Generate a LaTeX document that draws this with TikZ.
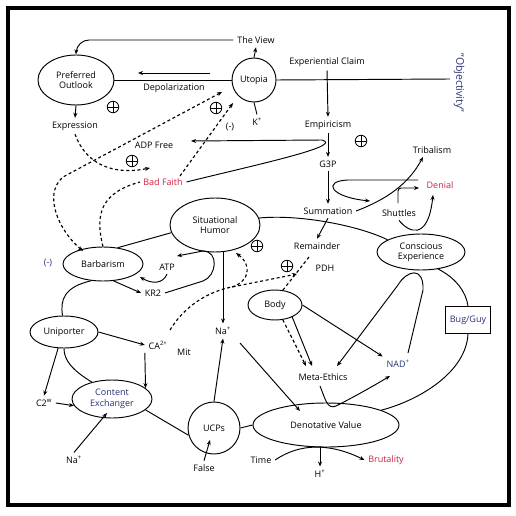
\documentclass[tikz,border=0pt]{standalone}
\usepackage{fontspec}
\setmainfont{Open Sans}
\usetikzlibrary{arrows.meta,shapes.geometric}
\definecolor{redtxt}{RGB}{205,35,70}
\definecolor{bluetxt}{RGB}{40,50,115}
\begin{document}
\begin{tikzpicture}[x=1pt,y=-1pt,
  font=\fontsize{9}{10.4}\selectfont,
  line width=0.95pt,
  >={Stealth[length=5pt,width=4pt]},
  ell/.style={draw, ellipse, inner sep=0pt, align=center},
  dsh/.style={line width=1.15pt, dash pattern=on 3pt off 2.6pt},
  plusnode/.style={circle, draw, line width=0.8pt, minimum size=11.5pt, inner sep=0pt,
    path picture={\draw[line width=0.8pt] (path picture bounding box.north) -- (path picture bounding box.south)
      (path picture bounding box.west) -- (path picture bounding box.east);}}]
\useasboundingbox (0,0) rectangle (516,516);
\fill[white] (0,0) rectangle (516,516);
\draw[line width=3.2pt] (8,8) rectangle (509,505);

% ---------- nodes ----------
\node[ell, minimum width=76pt, minimum height=50pt] (PO) at (76,80) {Preferred\\Outlook};
\node[draw, circle, minimum size=44pt, inner sep=0pt] (UT) at (254,80) {Utopia};
\node (VIEW) at (256,40) {The View};
\node (K) at (257,122) {K\textsuperscript{+}};
\node (EXP) at (75,126) {Expression};
\node (DEP) at (174,88) {Depolarization};
\node (EC) at (327,62) {Experiential Claim};
\node[rotate=-90, text=bluetxt, font=\fontsize{10.5}{12}\selectfont] (OBJ) at (459,83) {"Objectivity"};
\node (EMP) at (328,125) {Empiricism};
\node (G3P) at (328,164) {G3P};
\node (SUM) at (328,211) {Summation};
\node (TRIB) at (432,150) {Tribalism};
\node[text=redtxt] (DEN) at (440,185) {Denial};
\node (SHU) at (399,213) {Shuttles};
\node (ADP) at (154,145) {ADP Free};
\node[text=redtxt] (BF) at (163,182) {Bad Faith};
\node (NEG2) at (230,127) {(-)};
\node[ell, minimum width=90pt, minimum height=54pt] (SH) at (215,225) {Situational\\Humor};
\node[ell, minimum width=80pt, minimum height=34pt] (BAR) at (103,264) {Barbarism};
\node[text=bluetxt] (NEG) at (48,263) {(-)};
\node (ATP) at (167,267) {ATP};
\node (KR2) at (153,293) {KR2};
\node (REM) at (317,246) {Remainder};
\node (PDH) at (325,268) {PDH};
\node[ell, minimum width=88pt, minimum height=36pt] (CE) at (421,252) {Conscious\\Experience};
\node[draw, line width=1.1pt, minimum width=45pt, minimum height=27pt, inner sep=1pt, text=bluetxt] (BG) at (468,320) {Bug/Guy};
\node[ell, minimum width=54pt, minimum height=30pt] (BODY) at (275,305) {Body};
\node[ell, minimum width=68pt, minimum height=32pt] (UNI) at (64,332) {Uniporter};
\node (CA) at (158,345) {CA\textsuperscript{2+}};
\node (MIT) at (184,352) {Mit};
\node (NA1) at (223,331) {Na\textsuperscript{+}};
\node (ME) at (323,377) {Meta-Ethics};
\node[text=bluetxt] (NAD) at (398,364) {NAD\textsuperscript{+}};
\node[ell, minimum width=80pt, minimum height=38pt, text=bluetxt] (CX) at (112,399) {Content\\Exchanger};
\node (C2) at (44,403) {C2\textsuperscript{w}};
\node[draw, circle, minimum size=52pt, inner sep=0pt] (UCP) at (214,428) {UCPs};
\node[ell, minimum width=146pt, minimum height=44pt] (DV) at (326,425) {Denotative Value};
\node (NA2) at (74,460) {Na\textsuperscript{+}};
\node (FALSE) at (204,468) {False};
\node (TIME) at (261,460) {Time};
\node[text=redtxt] (BRU) at (386,460) {Brutality};
\node (H) at (320,474) {H\textsuperscript{+}};

\node[plusnode] (P1) at (113,107) {};
\node[plusnode] (P2) at (216,108) {};
\node[plusnode] (P3) at (132,161) {};
\node[plusnode] (P4) at (361,141) {};
\node[plusnode] (P5) at (257,246) {};
\node[plusnode] (P6) at (287,266) {};

% ---------- helper coordinates ----------
\coordinate (depA) at (210,73);
\coordinate (depB) at (138,73);
\coordinate (objEnd) at (450,79);
\coordinate (adpIn) at (191,141);
\coordinate (tribIn) at (423,157);
\coordinate (loopS) at (418,180);
\coordinate (loopE) at (370,201);
\coordinate (shuTop) at (398,203);
\coordinate (denIn) at (419,188);
\coordinate (denBot) at (433,195);
\coordinate (atpIn) at (177,256);
\coordinate (barIn) at (140,277);
\coordinate (dvIn) at (300,411);
\coordinate (na1Out) at (240,343);
\coordinate (ucpIn) at (210,440);
\coordinate (meTop1) at (312,366);
\coordinate (meTop2) at (306,366);
\coordinate (meTop3) at (337,366);
\coordinate (meBot) at (320,386);
\coordinate (nadIn) at (390,376);
\coordinate (nadTop) at (408,353);
\coordinate (caTop) at (170,330);
\coordinate (dJoin) at (232,287);
\coordinate (pdhIn) at (297,274);
\coordinate (shIn) at (236,253);
\coordinate (bfIn) at (150,168);
\coordinate (utIn1) at (222,92);
\coordinate (utIn2) at (233,103);
\coordinate (bfOut) at (180,176);
\coordinate (barIn2) at (83,251);
\coordinate (bfIn2) at (140,182);
\coordinate (cxIn) at (107,413);

% ---------- top connectors ----------
\draw[->] (UT.north) -- (VIEW.south);
\draw[->, rounded corners=12pt] (VIEW.west) -- (77,40) -- (PO.north);
\draw (UT.west) -- (PO.east);
\draw[->] (depA) -- (depB);
\draw (UT.south) -- (K.north);
\draw (UT.east) -- (objEnd);
\draw[->] (EC.south) -- (EMP.north);
\draw[->] (EMP.south) -- (G3P.north);
\draw[->] (G3P.south) -- (SUM.north);
\draw[->] (PO.south) -- (EXP.north);
\draw[->] (BF.east) .. controls (255,165) and (345,146) .. (322,140) -- (adpIn);

% ---------- right upper ----------
\draw[->] (SUM.east) .. controls (385,200) and (408,185) .. (tribIn);
\draw[->] (loopS) -- (348,180) .. controls (322,181) and (330,197) .. (loopE);
\draw[->, rounded corners=3pt] (shuTop) -- (398,188) -- (denIn);
\draw[->] (SHU.south) .. controls (408,232) and (428,242) .. (denBot);
\draw[->] (SUM.south) -- (REM.north);

% ---------- membrane ----------
\draw (BAR.48) -- (SH.190);
\draw (SH.9) .. controls (300,214) and (360,226) .. (CE.160);
\draw (CE.-45) .. controls (456,278) and (466,292) .. (BG.north);
\draw (BG.south) .. controls (466,372) and (420,400) .. (DV.15);
\draw (UCP.east) -- (DV.west);
\draw (CX.-18) -- (UCP.196);
\draw (CX.140) .. controls (72,370) and (64,360) .. (UNI.south);
\draw (UNI.95) .. controls (60,300) and (64,287) .. (BAR.-125);

% ---------- left middle ----------
\draw[->] (ATP.south) .. controls (163,284) and (152,284) .. (barIn);
\draw[->] (BAR.-58) -- (KR2.west);
\draw[->] (KR2.east) -- (203,281) .. controls (217,276) and (219,251) .. (203,251) -- (atpIn);
\draw[->] (SH.south -| NA1.north) -- (NA1.north);
\draw[->] (UCP.north) -- (NA1.south);
\draw[->] (na1Out) -- (dvIn);
\draw[->] (FALSE.north) -- (ucpIn);
\draw[->] (UNI.east) -- (CA.west);
\draw[->] (CA.south west) -- (CX.18);
\draw[->] (UNI.-110) -- (C2.north);
\draw[->] (C2.east) -- (CX.190);
\draw[->] (NA2.north) -- (cxIn);

% ---------- bottom right ----------
\draw[->] (TIME.east) .. controls (300,443) and (330,443) .. (BRU.west);
\draw[->] (DV.south -| H.north) -- (H.north);
\draw[->] (meBot) .. controls (325,398) and (327,410) .. (336,406) .. controls (350,399) and (370,388) .. (nadIn);
\draw[->] (BODY.east) -- (NAD.north west);
\draw[->] (BODY.-35) -- (meTop1);
\draw[->, dsh] (BODY.-62) -- (meTop2);
\draw[<-] (meTop3) -- (398,285) .. controls (407,270) and (424,266) .. (423,290) -- (nadTop);

% ---------- dashed ----------
\draw[dsh] (309,257) -- (BODY.62);
\draw[dsh, ->] (caTop) .. controls (185,305) and (210,291) .. (dJoin) -- (pdhIn);
\draw[dsh, ->] (dJoin) .. controls (250,281) and (252,265) .. (shIn);
\draw[dsh, ->] (EXP.south) .. controls (85,162) and (110,176) .. (bfIn);
\draw[dsh, <->] (barIn2) .. controls (60,232) and (42,195) .. (63,177) -- (utIn1);
\draw[dsh] (BAR.north) .. controls (95,215) and (100,193) .. (bfIn2);
\draw[dsh, ->] (bfOut) -- (utIn2);
\end{tikzpicture}
\end{document}
